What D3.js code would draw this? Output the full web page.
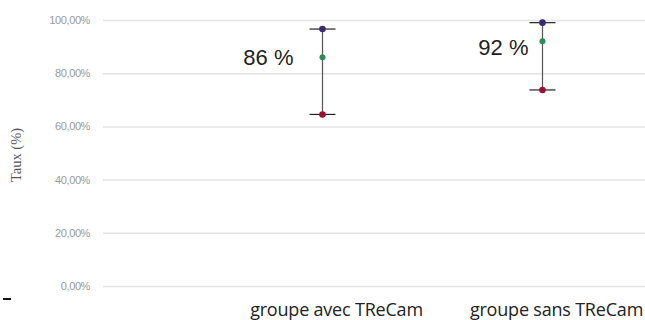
<!DOCTYPE html>
<html>
<head>
<meta charset="utf-8">
<script src="https://cdn.jsdelivr.net/npm/d3@7/dist/d3.min.js"></script>
<style>
  html, body { margin: 0; padding: 0; background: #fff; }
  svg { display: block; }
</style>
</head>
<body>
<svg id="chart" width="645" height="320"></svg>
<script>
// Taux par groupe : valeur centrale et intervalle (bas / haut)
const categories = ["groupe avec TReCam", "groupe sans TReCam"];
const lowValues  = [64.5, 73.7];
const midValues  = [86, 92];
const highValues = [96.6, 99.0];
const valueLabels = ["86 %", "92 %"];
const yTicks = [0, 20, 40, 60, 80, 100];
const yTickLabels = ["0,00%", "20,00%", "40,00%", "60,00%", "80,00%", "100,00%"];
const yTitle = "Taux (%)";

const svg = d3.select("#chart");
const plotLeft = 103, plotRight = 645;

const y = d3.scaleLinear().domain([0, 100]).range([286, 20]);
const x = d3.scalePoint().domain(categories).range([322.5, 542.5]);

// Grid lines
const grid = d3.axisLeft(y)
  .tickValues(yTicks)
  .tickSize(-(plotRight - plotLeft))
  .tickFormat("");
svg.append("g")
  .attr("transform", `translate(${plotLeft},0)`)
  .call(grid)
  .call(g => g.select(".domain").remove())
  .call(g => g.selectAll(".tick line")
    .attr("stroke", "#e4e4e4")
    .attr("stroke-width", 1.5));

// Tick labels
const yAxis = d3.axisLeft(y)
  .tickValues(yTicks)
  .tickSize(0)
  .tickPadding(0)
  .tickFormat((d, i) => yTickLabels[i]);
svg.append("g")
  .attr("transform", "translate(90,0)")
  .call(yAxis)
  .call(g => g.select(".domain").remove())
  .call(g => g.selectAll(".tick text")
    .attr("fill", "#999")
    .attr("font-family", "Liberation Sans, Arial, sans-serif")
    .attr("font-size", 11)
    .attr("letter-spacing", "-0.4px"));

// Y title
svg.append("text")
  .attr("transform", "translate(21,155) rotate(-90)")
  .attr("text-anchor", "middle")
  .attr("font-family", "Liberation Serif, Times New Roman, serif")
  .attr("font-size", 14.5)
  .attr("fill", "#555")
  .text(yTitle);

// Small tick mark at the lower-left corner
svg.append("line")
  .attr("x1", 3).attr("x2", 11)
  .attr("y1", 299).attr("y2", 299)
  .attr("stroke", "#111").attr("stroke-width", 2);

// Error bars
const bars = svg.append("g");
const capHalf = 13;
categories.forEach((c, i) => {
  const cx = x(c);
  bars.append("line")
    .attr("x1", cx).attr("x2", cx)
    .attr("y1", y(highValues[i])).attr("y2", y(lowValues[i]))
    .attr("stroke", "#555").attr("stroke-width", 1.2);
  [highValues[i], lowValues[i]].forEach(v => {
    bars.append("line")
      .attr("x1", cx - capHalf).attr("x2", cx + capHalf)
      .attr("y1", y(v)).attr("y2", y(v))
      .attr("stroke", "#222").attr("stroke-width", 1.2);
  });
  bars.append("circle").attr("cx", cx).attr("cy", y(highValues[i])).attr("r", 3.3).attr("fill", "#3a2a6e");
  bars.append("circle").attr("cx", cx).attr("cy", y(midValues[i])).attr("r", 3).attr("fill", "#2e8b57");
  bars.append("circle").attr("cx", cx).attr("cy", y(lowValues[i])).attr("r", 3.3).attr("fill", "#9b1030");
});

// Value labels beside each bar
const labelShift = [[-29, 7.5], [-14, 13.5]];
categories.forEach((c, i) => {
  svg.append("text")
    .attr("x", x(c) + labelShift[i][0])
    .attr("y", y(midValues[i]) + labelShift[i][1])
    .attr("text-anchor", "end")
    .attr("font-family", "Liberation Sans, Arial, sans-serif")
    .attr("font-size", 22)
    .attr("fill", "#222")
    .text(valueLabels[i]);
});

// Category labels
categories.forEach(c => {
  svg.append("text")
    .attr("x", x(c) + 14)
    .attr("y", 316)
    .attr("text-anchor", "middle")
    .attr("font-family", "Open Sans, sans-serif")
    .attr("font-size", 18)
    .attr("letter-spacing", "-0.2px")
    .attr("fill", "#222")
    .text(c);
});
</script>
</body>
</html>
